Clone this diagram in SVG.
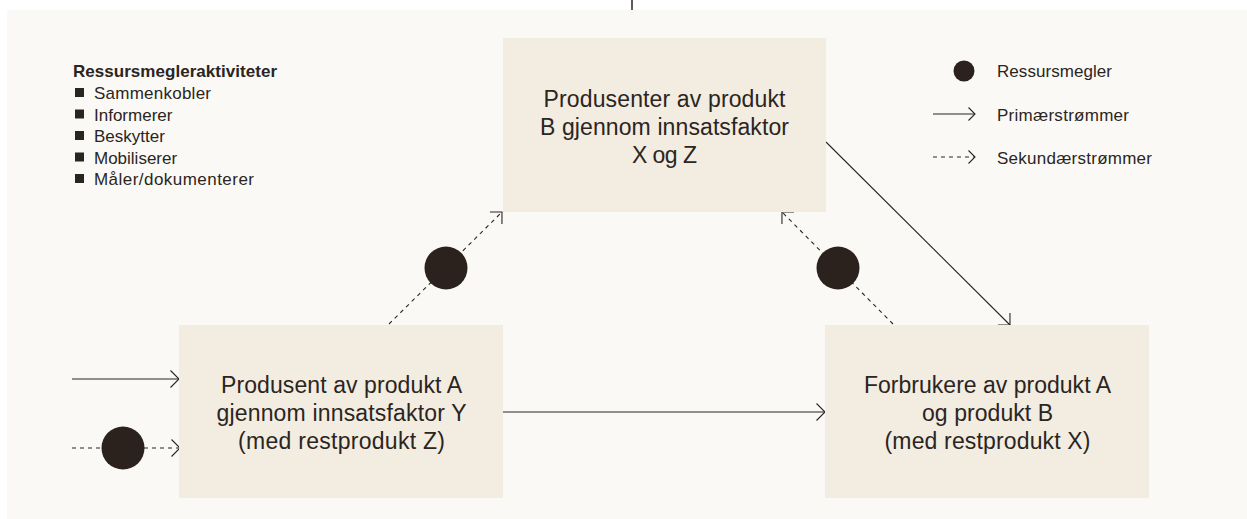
<svg xmlns="http://www.w3.org/2000/svg" width="1247" height="519" viewBox="0 0 1247 519">
  <style>
    .panel { fill: #faf9f6; }
    .box { fill: #f3ece1; }
    .label { font-family: "Liberation Sans", Arial, sans-serif; font-size: 23px; fill: #2b2521; text-anchor: middle; }
    .legend { font-family: "Liberation Sans", Arial, sans-serif; font-size: 17px; fill: #2b2521; }
    .legend-title { font-family: "Liberation Sans", Arial, sans-serif; font-size: 17px; font-weight: bold; fill: #2b2521; }
    .bullet { fill: #2b2521; }
    .broker { fill: #2b221d; }
    .flow { fill: none; stroke: #2b2521; stroke-width: 1.1; }
    .primary { marker-end: url(#chevron); }
    .secondary { stroke-dasharray: 4 4; marker-end: url(#chevron); }
    .plain-dash { stroke-dasharray: 4 4; }
    .head { fill: none; stroke: #2b2521; stroke-width: 1.1; stroke-dasharray: none; }
  </style>
  <defs>
    <marker id="chevron" viewBox="-12 -12 14 24" markerWidth="14" markerHeight="24" refX="0" refY="0" markerUnits="userSpaceOnUse" orient="auto" overflow="visible">
      <path class="head" d="M-8.5,-8.5 L0,0 L-8.5,8.5"/>
    </marker>
  </defs>

  <!-- page background and panel -->
  <rect x="0" y="0" width="1247" height="519" fill="#ffffff"/>
  <rect class="panel" x="7" y="10" width="1240" height="509"/>
  <line x1="632" y1="0" x2="632" y2="10" stroke="#2b2521" stroke-width="1.5"/>

  <!-- activity legend -->
  <g id="legend-activities">
    <text class="legend-title" x="73" y="76.5" textLength="204" lengthAdjust="spacing">Ressursmegleraktiviteter</text>
    <rect class="bullet" x="75" y="88" width="9" height="9"/>
    <text class="legend" x="94" y="99" textLength="117" lengthAdjust="spacing">Sammenkobler</text>
    <rect class="bullet" x="75" y="109.5" width="9" height="9"/>
    <text class="legend" x="94" y="120.5">Informerer</text>
    <rect class="bullet" x="75" y="131" width="9" height="9"/>
    <text class="legend" x="94" y="142">Beskytter</text>
    <rect class="bullet" x="75" y="152.5" width="9" height="9"/>
    <text class="legend" x="94" y="163.5">Mobiliserer</text>
    <rect class="bullet" x="75" y="174" width="9" height="9"/>
    <text class="legend" x="94" y="185" textLength="160" lengthAdjust="spacing">Måler/dokumenterer</text>
  </g>

  <!-- symbol legend -->
  <g id="legend-symbols">
    <circle class="broker" cx="964" cy="71" r="10.5"/>
    <text class="legend" x="997" y="76.5" textLength="115" lengthAdjust="spacing">Ressursmegler</text>
    <line class="flow" x1="933" y1="114" x2="975" y2="114"/>
    <path class="head" d="M968.5,107.5 L975,114 L968.5,120.5"/>
    <text class="legend" x="997" y="120.5" textLength="132" lengthAdjust="spacing">Primærstrømmer</text>
    <line class="flow plain-dash" x1="933" y1="157" x2="975" y2="157"/>
    <path class="head" d="M968.5,150.5 L975,157 L968.5,163.5"/>
    <text class="legend" x="997" y="163.5" textLength="155" lengthAdjust="spacing">Sekundærstrømmer</text>
  </g>

  <!-- connectors -->
  <g id="connectors">
    <line class="flow primary" x1="72" y1="379" x2="179" y2="379"/>
    <line class="flow secondary" x1="72" y1="448" x2="180" y2="448"/>
    <line class="flow primary" x1="503" y1="412" x2="825" y2="412"/>
    <line class="flow secondary" x1="389" y1="324" x2="502" y2="212"/>
    <line class="flow secondary" x1="893" y1="324" x2="782" y2="212"/>
    <line class="flow primary" x1="826" y1="142" x2="1010" y2="325"/>
  </g>

  <!-- resource brokers on secondary flows -->
  <g id="brokers">
    <circle class="broker" cx="123" cy="448" r="21.5"/>
    <circle class="broker" cx="446" cy="268" r="21.5"/>
    <circle class="broker" cx="838" cy="268" r="21.5"/>
  </g>

  <!-- nodes -->
  <g id="node-producer-b">
    <rect class="box" x="503" y="38" width="323" height="174"/>
    <text class="label" x="664.5" y="107" textLength="242" lengthAdjust="spacing">Produsenter av produkt</text>
    <text class="label" x="664.5" y="135" textLength="249" lengthAdjust="spacing">B gjennom innsatsfaktor</text>
    <text class="label" x="664.5" y="163" textLength="65" lengthAdjust="spacing">X og Z</text>
  </g>
  <g id="node-producer-a">
    <rect class="box" x="179" y="325" width="324" height="173"/>
    <text class="label" x="341.5" y="393" textLength="241" lengthAdjust="spacing">Produsent av produkt A</text>
    <text class="label" x="341.5" y="421" textLength="250" lengthAdjust="spacing">gjennom innsatsfaktor Y</text>
    <text class="label" x="341.5" y="449" textLength="207" lengthAdjust="spacing">(med restprodukt Z)</text>
  </g>
  <g id="node-consumers">
    <rect class="box" x="825" y="325" width="324" height="173"/>
    <text class="label" x="987.5" y="393" textLength="247" lengthAdjust="spacing">Forbrukere av produkt A</text>
    <text class="label" x="987.5" y="421" textLength="131" lengthAdjust="spacing">og produkt B</text>
    <text class="label" x="987.5" y="449" textLength="206" lengthAdjust="spacing">(med restprodukt X)</text>
  </g>
</svg>
